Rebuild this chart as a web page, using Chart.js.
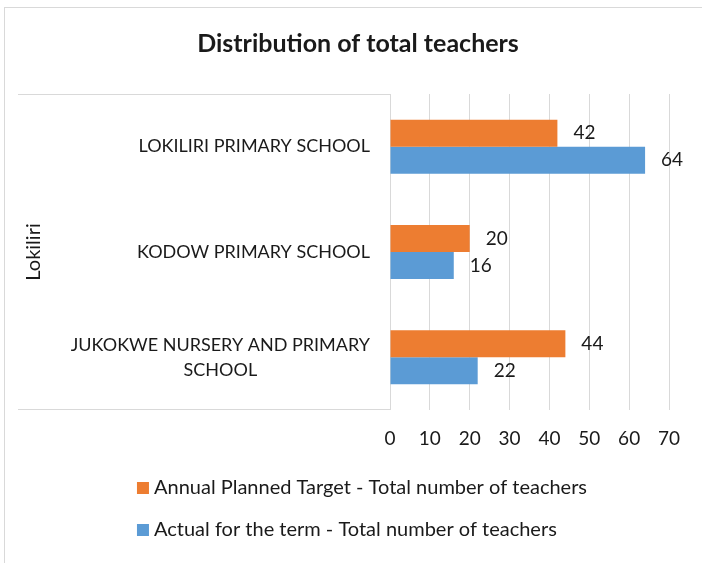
<!DOCTYPE html>
<html>
<head>
<meta charset="utf-8">
<title>Distribution of total teachers</title>
<script src="https://cdn.jsdelivr.net/npm/chart.js@4.4.0/dist/chart.umd.min.js"></script>
<style>
    html, body { margin: 0; padding: 0; overflow: hidden; background: #fff; }
    #frame { position: absolute; left: 4px; top: 7px; width: 706px; height: 555px; border: 1px solid #d9d9d9; }
</style>
</head>
<body>
<div id="frame"><canvas id="chart"></canvas></div>
<script>
const chartTitle = 'Distribution of total teachers';
const groupName = 'Lokiliri';
const schools = [
    ['LOKILIRI PRIMARY SCHOOL'],
    ['KODOW PRIMARY SCHOOL'],
    ['JUKOKWE NURSERY AND PRIMARY', 'SCHOOL']
];
const plannedLabel = 'Annual Planned Target - Total number of teachers';
const actualLabel = 'Actual for the term - Total number of teachers';
const planned = [42, 20, 44];
const actual = [64, 16, 22];
const xMax = 70;
const xStep = 10;

const FONT = 'Lato, "Open Sans", sans-serif';
const TEXT = '#1a1a1a';
const GRID = '#d9d9d9';

// bits Chart.js has no option for: bracket of the category axis, centred
// multi-line category labels, value labels, title and a stacked legend
const excelBits = {
    id: 'excelBits',
    afterDraw(chart) {
        const { ctx, chartArea, scales: { y } } = chart;
        ctx.save();

        ctx.strokeStyle = GRID;
        ctx.lineWidth = 1;
        ctx.beginPath();
        ctx.moveTo(y.left, Math.round(chartArea.top) + 0.5);
        ctx.lineTo(y.right, Math.round(chartArea.top) + 0.5);
        ctx.moveTo(y.left, Math.round(chartArea.bottom) - 0.5);
        ctx.lineTo(y.right, Math.round(chartArea.bottom) - 0.5);
        ctx.stroke();

        ctx.fillStyle = TEXT;
        ctx.textBaseline = 'middle';
        ctx.font = '18px ' + FONT;
        ctx.textAlign = 'center';
        chart.data.labels.forEach((lines, i) => {
            const w = Math.max(...lines.map(l => ctx.measureText(l).width));
            const cx = y.right - 20 - w / 2;
            const cy = y.getPixelForTick(i);
            lines.forEach((l, k) => {
                ctx.fillText(l, cx, cy + (k - (lines.length - 1) / 2) * 25);
            });
        });

        ctx.font = '19px ' + FONT;
        ctx.textAlign = 'left';
        chart.data.datasets.forEach((ds, di) => {
            chart.getDatasetMeta(di).data.forEach((bar, i) => {
                ctx.fillText(String(ds.data[i]), bar.x + 16, bar.y);
            });
        });

        ctx.font = 'bold 25px ' + FONT;
        ctx.textAlign = 'center';
        ctx.fillText(chartTitle, chart.width / 2, 36);

        ctx.font = '20px ' + FONT;
        ctx.textAlign = 'left';
        const widest = Math.max(...chart.data.datasets.map(ds => ctx.measureText(ds.label).width));
        const lx = (chart.width - (17 + widest)) / 2 + 4;
        chart.data.datasets.forEach((ds, di) => {
            const ly = 480 + di * 42;
            ctx.fillStyle = ds.backgroundColor;
            ctx.fillRect(lx, ly - 6, 12, 12);
            ctx.fillStyle = TEXT;
            ctx.fillText(ds.label, lx + 17, ly);
        });

        ctx.restore();
    }
};

new Chart(document.getElementById('chart'), {
    type: 'bar',
    data: {
        labels: schools,
        datasets: [{
            label: plannedLabel,
            data: planned,
            backgroundColor: '#ED7D31'
        }, {
            label: actualLabel,
            data: actual,
            backgroundColor: '#5B9BD5'
        }]
    },
    options: {
        indexAxis: 'y',
        responsive: true,
        maintainAspectRatio: false,
        animation: false,
        categoryPercentage: 0.513,
        barPercentage: 1,
        layout: {
            padding: { left: 13, right: 42, top: 86, bottom: 116 }
        },
        plugins: {
            legend: { display: false },
            title: { display: false },
            tooltip: { enabled: false }
        },
        scales: {
            x: {
                min: 0,
                max: xMax,
                ticks: {
                    stepSize: xStep,
                    padding: 17,
                    color: TEXT,
                    font: { family: FONT, size: 19 }
                },
                grid: { color: GRID, drawTicks: false },
                border: { display: false },
                afterFit(scale) { scale.height = 37; }
            },
            y: {
                ticks: { display: false },
                grid: { display: false },
                border: { display: false },
                title: {
                    display: true,
                    text: groupName,
                    color: TEXT,
                    font: { family: FONT, size: 20 },
                    padding: { top: 4, bottom: 0 }
                },
                afterFit(scale) { scale.width = 372; }
            }
        }
    },
    plugins: [excelBits]
});
</script>
</body>
</html>
